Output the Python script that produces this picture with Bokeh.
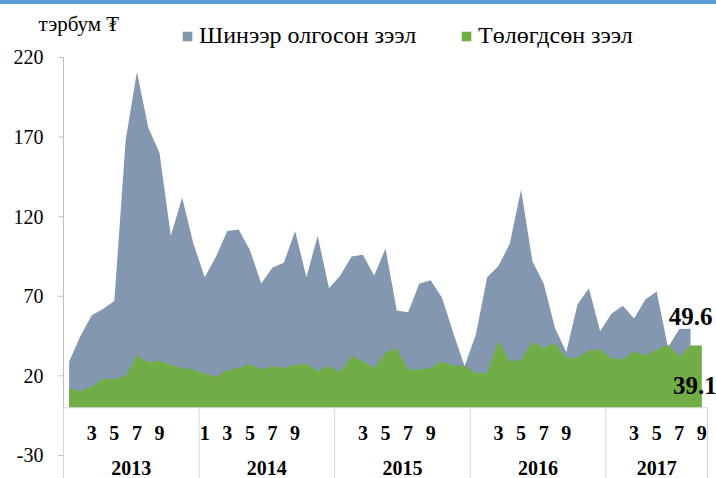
from bokeh.plotting import figure
from bokeh.models import Range1d, Legend, LegendItem, Label, Div
from bokeh.layouts import column
from bokeh.core.properties import value
from bokeh.embed import file_html
from bokeh.resources import INLINE

# ---- data ----
years = ["2013", "2014", "2015", "2016", "2017"]
months_per_year = [12, 12, 12, 12, 9]
month_labels = (["", "", "3", "", "5", "", "7", "", "9", "", "", ""]
                + ["1", "", "3", "", "5", "", "7", "", "9", "", "", ""]
                + ["", "", "3", "", "5", "", "7", "", "9", "", "", ""]
                + ["", "", "3", "", "5", "", "7", "", "9", "", "", ""]
                + ["", "", "3", "", "5", "", "7", "", "9"])
series_names = ["Шинээр олгосон зээл", "Төлөгдсөн зээл"]
new_loans = [29, 45, 58, 62, 67, 168, 211, 176, 160, 108, 132, 103,
             82, 95, 111, 112, 99, 78, 88, 91, 111, 82, 108, 75,
             83, 95, 96, 83, 100, 61, 60, 78, 80, 69, 47, 26,
             46, 82, 89, 103, 137, 92, 78, 50, 35, 65, 75, 48,
             59, 64, 56, 68, 73, 38, 49.5, 49.6]
repaid_loans = [12, 10.5, 13, 18, 18, 20, 33, 28.5, 29.5, 27, 25, 24,
                21.5, 19.5, 23.5, 25, 27.5, 24, 26, 25, 27, 27.5, 23, 26,
                22.5, 32.5, 29.5, 25, 34.5, 37.5, 24, 24, 25, 29, 26.5, 26.3,
                22, 22, 42, 29, 30, 41.5, 37.5, 40.5, 31, 31.5, 36, 36.5,
                31, 30.5, 35.3, 33, 36.5, 39.5, 32, 39, 39.1]
y_ticks = [-30, 20, 70, 120, 170, 220]
y_unit = "тэрбум ₮"

n = sum(months_per_year)
x_all = list(range(n))
x_new = list(range(len(new_loans)))

# year boundaries and centres (category positions)
bounds = [-0.5]
for m in months_per_year:
    bounds.append(bounds[-1] + m)
year_centers = [(bounds[i] + bounds[i + 1]) / 2 for i in range(len(years))]

# ---- layout constants (pixels) ----
W, H = 716, 474
PLOT_LEFT, PLOT_RIGHT = 63, 707          # category axis extent on the canvas
PPM = (PLOT_RIGHT - PLOT_LEFT) / n       # pixels per month
x_lo = bounds[0] - PLOT_LEFT / PPM
x_hi = bounds[0] + (W - PLOT_LEFT) / PPM
TICK = 5 / PPM

FONT = "Liberation Serif"
SERIF = value(FONT)
BLUE = "#8497B0"
GREEN = "#70AD47"
GRID = "#D9D9D9"
AXIS = "#BFBFBF"

band = Div(text="", width=W, height=4, margin=(0, 0, 0, 0),
           styles={"background-color": "#5B9BD5"})

p = figure(width=W, height=H, output_backend="svg", toolbar_location=None,
           x_range=Range1d(x_lo, x_hi), y_range=Range1d(-44.47, 253.27),
           x_axis_type=None, y_axis_type=None, margin=(0, 0, 0, 0),
           min_border_left=0, min_border_right=0, min_border_top=0, min_border_bottom=0)
p.outline_line_color = None
p.background_fill_color = "white"
p.border_fill_color = "white"

r_blue = p.varea(x=x_new, y1=0, y2=new_loans, fill_color=BLUE)
r_green = p.varea(x=x_all, y1=0, y2=repaid_loans, fill_color=GREEN)

# value axis (line, outside ticks, labels)
p.segment(x0=[bounds[0]], y0=[y_ticks[0]], x1=[bounds[0]], y1=[y_ticks[-1]],
          line_color=AXIS, line_width=1)
p.segment(x0=[bounds[0] - TICK] * len(y_ticks), y0=y_ticks,
          x1=[bounds[0]] * len(y_ticks), y1=y_ticks, line_color=AXIS, line_width=1)
p.text(x=[bounds[0]] * len(y_ticks), y=y_ticks, text=[str(t) for t in y_ticks],
       x_offset=-20, text_font=SERIF, text_font_size="20px", text_align="right",
       text_baseline="middle", text_color="black")

# category axis line at zero and year separators
p.segment(x0=[bounds[0]], y0=[0], x1=[bounds[-1]], y1=[0], line_color=GRID, line_width=1)
p.segment(x0=bounds, y0=[0] * len(bounds), x1=bounds, y1=[-50] * len(bounds),
          line_color=GRID, line_width=1)

# category labels
p.text(x=x_all, y=-15.6, text=month_labels, text_font=SERIF, text_font_style="bold",
       text_font_size="20px", text_align="center", text_baseline="middle", text_color="black")
p.text(x=year_centers, y=-37.6, text=years, text_font=SERIF, text_font_style="bold",
       text_font_size="20px", text_align="center", text_baseline="middle", text_color="black")

# unit label
p.add_layout(Label(x=38, y=455, x_units="screen", y_units="screen", text=y_unit,
                   text_font=FONT, text_font_size="21px", text_baseline="middle",
                   text_color="black"))

# end value labels
lb = len(new_loans) - 1
lg = len(repaid_loans) - 1
p.add_layout(Label(x=lb, y=new_loans[lb], text=f"{new_loans[lb]}", text_font=FONT,
                   text_font_style="bold", text_font_size="25px", text_align="center",
                   text_baseline="middle", y_offset=12.5, text_color="black"))
p.add_layout(Label(x=lg, y=repaid_loans[lg], text=f"{repaid_loans[lg]}", text_font=FONT,
                   text_font_style="bold", text_font_size="25px", text_align="center",
                   text_baseline="middle", x_offset=-7, y_offset=-40, text_color="black"))


def make_legend(label, renderer, loc):
    lgd = Legend(items=[LegendItem(label=label, renderers=[renderer])],
                 orientation="horizontal", location=loc)
    lgd.padding = 0
    lgd.margin = 0
    lgd.label_standoff = 6
    lgd.glyph_width = 12
    lgd.glyph_height = 12
    lgd.label_height = 24
    lgd.label_text_font = FONT
    lgd.label_text_font_size = "24px"
    lgd.label_text_color = "black"
    lgd.border_line_color = None
    lgd.background_fill_alpha = 0
    return lgd


p.add_layout(make_legend(series_names[0], r_blue, (181, 429)))
p.add_layout(make_legend(series_names[1], r_green, (460, 429)))

layout = column(band, p, spacing=0)
open("out.html", "w").write(file_html(layout, INLINE))
